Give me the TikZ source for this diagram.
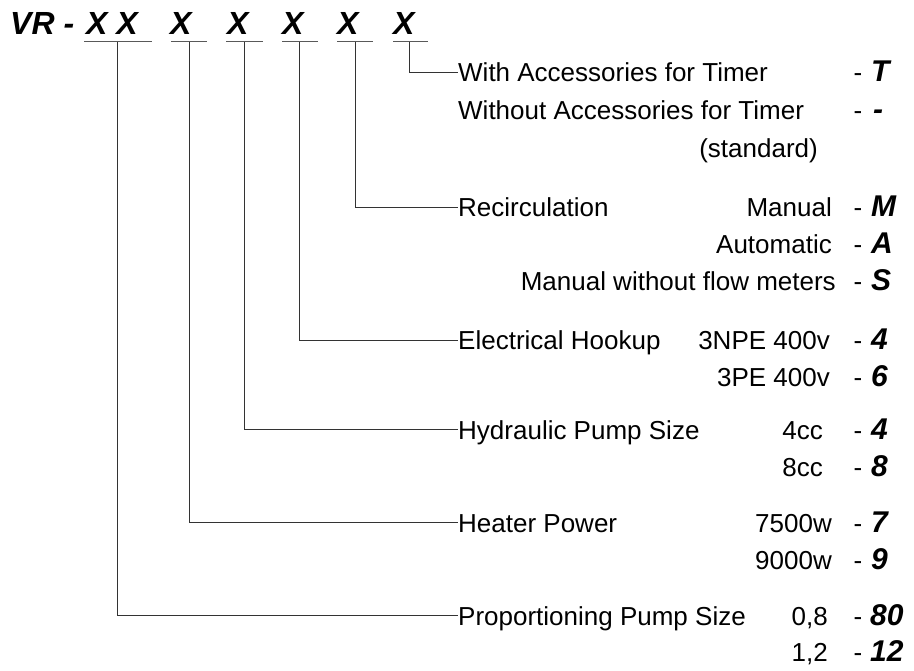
\documentclass[tikz,border=0pt]{standalone}
\usepackage{fontspec}
\setmainfont{Liberation Sans}
\usetikzlibrary{positioning}

\begin{document}
\begin{tikzpicture}[x=1pt, y=-1pt, every node/.style={inner sep=0pt},
  body/.style={font=\fontsize{26}{30}\selectfont},
  group/.style={body, anchor=base west, text height=18.6pt, text depth=0pt},
  value/.style={body, anchor=base east},
  dashmark/.style={body, anchor=base},
  code/.style={font=\fontsize{30}{34}\selectfont\bfseries\itshape, anchor=base west},
  title/.style={font=\fontsize{32}{36}\selectfont\bfseries\itshape, anchor=base west},
  uline/.style={black!65, line width=0.9pt},
  link/.style={black!80, line width=0.9pt}]

\useasboundingbox (0,0) rectangle (914,671);

% --- Type code ---
\node[title] (vr) at (10,35) {VR -};
\node[title] (x1) at (86,35) {X X};
\node[title] (x2) at (170,35) {X};
\node[title] (x3) at (227,35) {X};
\node[title] (x4) at (282,35) {X};
\node[title] (x5) at (337,35) {X};
\node[title] (x6) at (393,35) {X};

% underlines below each position
\draw[uline] (84,41.7) -- (152,41.7);
\draw[uline] (171,41.7) -- (207,41.7);
\draw[uline] (226,41.7) -- (263,41.7);
\draw[uline] (282,41.7) -- (318,41.7);
\draw[uline] (337,41.7) -- (373,41.7);
\draw[uline] (393,41.7) -- (428,41.7);

\coordinate (d1) at (117,41.7);
\coordinate (d2) at (189,41.7);
\coordinate (d3) at (244,41.7);
\coordinate (d4) at (299,41.7);
\coordinate (d5) at (355,41.7);
\coordinate (d6) at (409.5,41.7);

% --- Timer accessories ---
\node[group] (timer) at (458,82) {With Accessories for Timer};
\node[dashmark] (timer-d) at (858,82) {-};
\node[code] (timer-c) at (871,82) {T};
\node[group] (notimer) at (458,120) {Without Accessories for Timer};
\node[dashmark] (notimer-d) at (858,120) {-};
\node[code] (notimer-c) at (873,120) {-};
\node[value] (std) at (818,158) {(standard)};

% --- Recirculation ---
\node[group] (recirc) at (458,217) {Recirculation};
\node[value] (manual) at (832,217) {Manual};
\node[dashmark] (manual-d) at (858,217) {-};
\node[code] (manual-c) at (871,217) {M};
\node[value] (auto) at (832,254) {Automatic};
\node[dashmark] (auto-d) at (858,254) {-};
\node[code] (auto-c) at (871,254) {A};
\node[value] (noflow) at (836,291) {Manual without flow meters};
\node[dashmark] (noflow-d) at (858,291) {-};
\node[code] (noflow-c) at (871,291) {S};

% --- Electrical hookup ---
\node[group] (hookup) at (458,350) {Electrical Hookup};
\node[value] (npe) at (830,350) {3NPE 400v};
\node[dashmark] (npe-d) at (858,350) {-};
\node[code] (npe-c) at (871,350) {4};
\node[value] (pe) at (830,387) {3PE 400v};
\node[dashmark] (pe-d) at (858,387) {-};
\node[code] (pe-c) at (871,387) {6};

% --- Hydraulic pump ---
\node[group] (hydr) at (458,439) {Hydraulic Pump Size};
\node[value] (cc4) at (823,439) {4cc};
\node[dashmark] (cc4-d) at (858,439) {-};
\node[code] (cc4-c) at (871,439) {4};
\node[value] (cc8) at (823,476) {8cc};
\node[dashmark] (cc8-d) at (858,476) {-};
\node[code] (cc8-c) at (871,476) {8};

% --- Heater ---
\node[group] (heater) at (458,532) {Heater Power};
\node[value] (w75) at (832,532) {7500w};
\node[dashmark] (w75-d) at (858,532) {-};
\node[code] (w75-c) at (871,532) {7};
\node[value] (w90) at (832,569) {9000w};
\node[dashmark] (w90-d) at (858,569) {-};
\node[code] (w90-c) at (871,569) {9};

% --- Proportioning pump ---
\node[group] (prop) at (458,625) {Proportioning Pump Size};
\node[value] (p08) at (828,625) {0,8};
\node[dashmark] (p08-d) at (858,625) {-};
\node[code] (p08-c) at (870,625) {80};
\node[value] (p12) at (828,661) {1,2};
\node[dashmark] (p12-d) at (858,661) {-};
\node[code] (p12-c) at (870,661) {12};

% leader lines
\draw[link] (d6) |- (timer.west);
\draw[link] (d5) |- (recirc.west);
\draw[link] (d4) |- (hookup.west);
\draw[link] (d3) |- (hydr.west);
\draw[link] (d2) |- (heater.west);
\draw[link] (d1) |- (prop.west);

\end{tikzpicture}
\end{document}
